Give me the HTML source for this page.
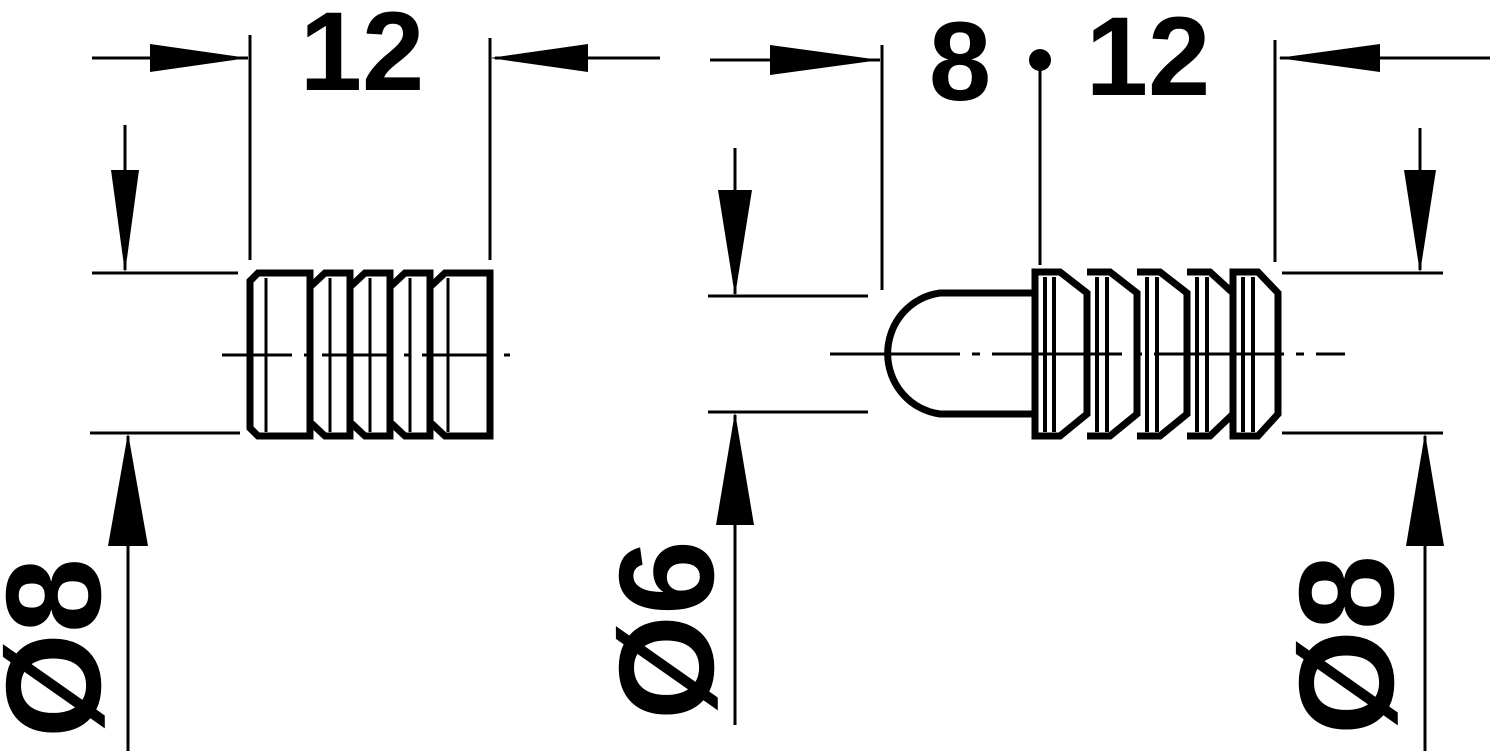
<!DOCTYPE html>
<html><head><meta charset="utf-8"><style>
html,body{margin:0;padding:0;background:#fff;}
svg{display:block}
text{font-family:"Liberation Sans",sans-serif;font-weight:bold;fill:#000}
</style></head><body>
<svg width="1500" height="751" viewBox="0 0 1500 751" xmlns="http://www.w3.org/2000/svg">
<g stroke="#000" stroke-width="3" fill="none">
<line x1="92" y1="58" x2="248" y2="58"/>
<line x1="250" y1="35" x2="250" y2="260"/>
<line x1="490" y1="38" x2="490" y2="260"/>
<line x1="495" y1="58" x2="660" y2="58"/>
<line x1="92" y1="273" x2="238" y2="273"/>
<line x1="90" y1="433" x2="240" y2="433"/>
<line x1="125" y1="125" x2="125" y2="270"/>
<line x1="128" y1="751" x2="128" y2="436"/>
<line x1="710" y1="60" x2="880" y2="60"/>
<line x1="882" y1="45" x2="882" y2="290"/>
<line x1="1040" y1="60" x2="1040" y2="265"/>
<line x1="1275" y1="40" x2="1275" y2="262"/>
<line x1="1280" y1="58" x2="1490" y2="58"/>
<line x1="708" y1="296" x2="868" y2="296"/>
<line x1="708" y1="412" x2="868" y2="412"/>
<line x1="735" y1="148" x2="735" y2="294"/>
<line x1="735" y1="725" x2="735" y2="415"/>
<line x1="1282" y1="273" x2="1443" y2="273"/>
<line x1="1282" y1="433" x2="1443" y2="433"/>
<line x1="1420" y1="128" x2="1420" y2="270"/>
<line x1="1425" y1="751" x2="1425" y2="436"/>
<line x1="222" y1="355" x2="520" y2="355" stroke-dasharray="70 12 6 12"/>
<line x1="830" y1="354" x2="1345" y2="354" stroke-dasharray="130 12 8 12"/>
</g>
<g fill="#000">
<polygon points="248,58 150,44 150,72"/>
<polygon points="490,58 588,44 588,72"/>
<polygon points="125,273 111,170 139,170"/>
<polygon points="128,433 108,546 148,546"/>
<polygon points="880,60 770,45 770,75"/>
<polygon points="1278,58 1380,44 1380,72"/>
<polygon points="735,296 718,190 752,190"/>
<polygon points="735,412 716,525 754,525"/>
<polygon points="1420,273 1404,170 1436,170"/>
<polygon points="1425,433 1406,546 1444,546"/>
<circle cx="1040" cy="60" r="11"/>
</g>
<text x="362" y="90" font-size="112" text-anchor="middle">12</text>
<text x="960" y="100" font-size="112" text-anchor="middle">8</text>
<text x="1148" y="95" font-size="112" text-anchor="middle">12</text>
<text transform="translate(100,648) rotate(-90)" font-size="135" text-anchor="middle">Ø8</text>
<text transform="translate(713,630) rotate(-90)" font-size="135" text-anchor="middle">Ø6</text>
<text transform="translate(1393,645) rotate(-90)" font-size="135" text-anchor="middle">Ø8</text>
<g stroke="#000" stroke-width="7" fill="none">
<path d="M258,273 L310,273 L310,436 L258,436 L250,428 L250,281 Z"/>
<path d="M310,287 L325,273 L350,273 L350,436 L325,436 L310,422"/>
<path d="M350,287 L365,273 L390,273 L390,436 L365,436 L350,422"/>
<path d="M390,287 L405,273 L430,273 L430,436 L405,436 L390,422"/>
<path d="M430,287 L445,273 L490,273 L490,436 L445,436 L430,422"/>
</g>
<g stroke="#000" stroke-width="3">
<line x1="266" y1="278" x2="266" y2="432"/>
<line x1="330" y1="278" x2="330" y2="432"/>
<line x1="370" y1="278" x2="370" y2="432"/>
<line x1="410" y1="278" x2="410" y2="432"/>
<line x1="448" y1="278" x2="448" y2="432"/>
</g>
<g stroke="#000" stroke-width="7" fill="none">
<path d="M1035,293 L940,293 A60,61 0 0 0 940,414 L1035,414"/>
<path d="M1035,272 L1060,272 L1087,293 L1087,414 L1060,436 L1035,436 Z"/>
<path d="M1087,272 L1110,272 L1137,293 L1137,414 L1110,436 L1087,436"/>
<path d="M1137,272 L1160,272 L1187,293 L1187,414 L1160,436 L1137,436"/>
<path d="M1187,272 L1210,272 L1233,293 L1233,414 L1210,436 L1187,436"/>
<path d="M1233,272 L1258,272 L1278,293 L1278,414 L1258,436 L1233,436 Z"/>
</g>
<g stroke="#000" stroke-width="4">
<line x1="1045" y1="277" x2="1045" y2="432"/>
<line x1="1054" y1="277" x2="1054" y2="432"/>
<line x1="1097" y1="277" x2="1097" y2="432"/>
<line x1="1107" y1="277" x2="1107" y2="432"/>
<line x1="1147" y1="277" x2="1147" y2="432"/>
<line x1="1157" y1="277" x2="1157" y2="432"/>
<line x1="1197" y1="277" x2="1197" y2="432"/>
<line x1="1207" y1="277" x2="1207" y2="432"/>
<line x1="1243" y1="277" x2="1243" y2="432"/>
<line x1="1253" y1="277" x2="1253" y2="432"/>
</g>
</svg>
</body></html>
